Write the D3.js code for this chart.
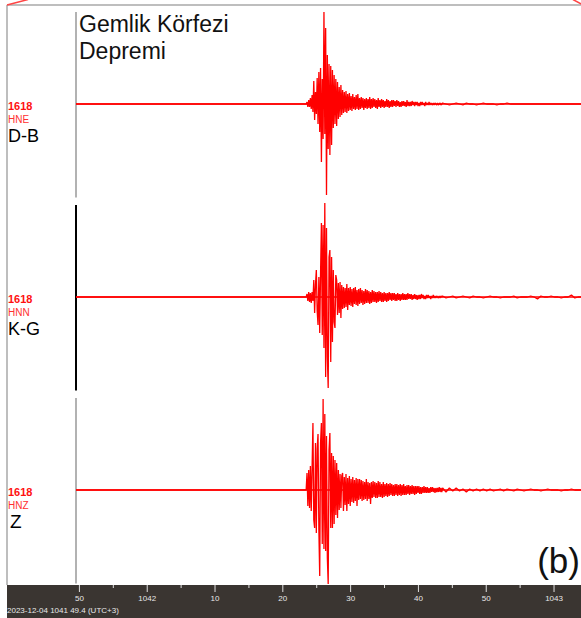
<!DOCTYPE html>
<html><head><meta charset="utf-8">
<script src="https://cdn.jsdelivr.net/npm/d3@7"></script>
<style>html,body{margin:0;padding:0;background:#fff;} svg{display:block;font-family:"Liberation Sans",Arial,sans-serif;}</style>
</head><body><svg id="c" width="581" height="618"></svg>
<script>
const station = "1618";
const channels = ["HNE", "HNN", "HNZ"];
const components = ["D-B", "K-G", "Z"];
const titleLines = ["Gemlik Körfezi", "Depremi"];
const panelTag = "(b)";
const startLabel = "2023-12-04 1041 49.4 (UTC+3)";
const timeStart = 49.57, timeEnd = 124.05;          // seconds after 10:41:00
const majorTicks = [50, 60, 70, 80, 90, 100, 110, 120];
const majorLabels = ["50", "1042", "10", "20", "30", "40", "50", "1043"];
const minorTicks = [55, 65, 75, 85, 95, 105, 115];
const onsetTime = 83.64, burstStep = 0.125;       // strong-motion part
const codaTime = 103.64, codaStep = 0.5;          // late coda

// HNE (D-B)
const burstHNE = [2,-3,4,-3,6,-5,9,-8,23,-16,12,-10,26,-20,32,-28,36,-58,25,-35,92,-30,76,-91,49,-45,40,-51,38,-41,
  34,-24,29,-20,25,-22,22,-15,17,-13,19,-11,14,-9,12,-8,13,-9,10,-7,11,-6,8,-7,10,-5,7,-6,9,-5,10,
  -6,6,-5,7,-4,6,-6,5,-4,6,-5,5,-4,7,-5,5,-4,6,-3,5,
  -4,4,-5,6,-3,4,-4,5,-3,4,-4,3,-3,5,-3,4,-4,3,-3,4,
  -3,4,-2,3,-3,4,-2,3,-3,2,-3,3,-2,3,-2,2,-3,4,-2,2,
  -2,2,-2,3,-1,2,-2,2,-1,2,-2,1,-2,2,-1,2,-1,1,-2,2,
  -1,1,-1,2,-1,1,0,-1,1,-1,1,0,-1,1,-1,0,1,-1,0];
const codaHNE = [1,0,-1,0,1,0,-1,1,0,0,-1,0,1,0,0,0,-1,0,0,1,0,0,0];
// HNN (K-G)
const burstHNN = [3,-4,5,-5,4,-6,5,-4,17,-16,12,27,-14,-28,20,-36,24,74,-38,72,-51,94,-80,69,-60,-91,40,47,-65,40,
  -45,27,-25,-31,22,17,-18,14,-16,15,-21,12,-12,10,-11,9,-10,13,-13,9,-8,10,-9,8,-10,9,-7,10,-8,7,-9,
  8,-7,9,-6,7,-8,6,-7,8,-6,7,-6,6,-7,5,-6,7,-5,6,-5,
  5,-6,5,-5,6,-4,5,-5,4,-5,5,-4,4,-5,4,-4,5,-3,4,-4,
  4,-3,4,-4,3,-4,4,-3,3,-4,3,-3,4,-3,3,-3,3,-3,4,-2,
  3,-2,3,-3,2,-2,3,-2,2,-3,2,-2,2,-2,3,-1,2,-2,1,-2,
  2,-1,2,-1,1,-2,1,-1,2,-1,1,-1,1,0,-1,1,-1,1,0];
const codaHNN = [1,-1,0,1,-1,0,1,0,-1,1,0,0,-1,0,1,0,0,-1,0,0,0,1,-1,0,0,0,1,0,-2,1,0,0,1,0,0,-1,0,0,2,-1,0];
// HNZ (Z)
const burstHNZ = [17,-16,20,-18,24,-21,22,67,-30,-38,47,-43,41,56,-40,-86,47,67,-54,91,-59,76,-61,54,-68,-94,40,57,-38,37,
  -38,34,-34,30,-25,27,-28,20,-20,16,-18,14,17,-21,13,-15,16,-21,12,-14,14,-16,11,-12,13,-13,10,-11,12,-16,11,
  -10,11,-9,10,-11,9,-10,8,-9,11,-11,8,-9,7,-14,8,-8,9,-7,8,
  -8,7,-8,9,-7,8,-7,6,-8,8,-7,6,-6,7,-7,6,-6,7,-5,6,
  -6,5,-6,6,-5,6,-6,5,-5,6,-6,5,-5,6,-5,4,-5,5,-4,5,
  -5,4,-4,5,-4,4,-5,4,-4,4,-3,4,-4,3,-4,3,-3,4,-3,3,
  -3,3,-3,2,-3,3,-2,3,-2,2,-3,2,-2,2,-2,3,-2,2,-2];
const codaHNZ = [2,-2,2,-1,2,-1,1,-2,1,-1,1,-1,1,-1,1,-1,0,1,-1,1,0,-1,1,0,-1,0,1,0,0,-1,0,1,0,0,0,-1,0,0,1,0,0];
const bursts = [burstHNE, burstHNN, burstHNZ];
const codas = [codaHNE, codaHNN, codaHNZ];

const svg = d3.select("#c");
const W = 581, H = 618;
const x = d3.scaleLinear([timeStart, timeEnd], [76, W]);
const band = d3.scaleBand(channels, [7.5, 586.5]);

// frame
svg.append("line").attr("x1", 7).attr("x2", W).attr("y1", 5).attr("y2", 5).attr("stroke", "#a8a8a8").attr("stroke-width", 1.5);
svg.append("line").attr("x1", 7).attr("x2", 7).attr("y1", 5).attr("y2", 585).attr("stroke", "#a8a8a8").attr("stroke-width", 1.5);
svg.append("line").attr("x1", 7).attr("y1", 5).attr("x2", 28).attr("y2", -0.5).attr("stroke", "#f44").attr("stroke-width", 1.5);
svg.append("line").attr("x1", 573).attr("y1", -0.5).attr("x2", 582).attr("y2", 4.5).attr("stroke", "#f44").attr("stroke-width", 1.5);

// bottom time bar
svg.append("rect").attr("x", 7).attr("y", 585).attr("width", W - 7).attr("height", H - 585).attr("fill", "#3a3531");
const axMajor = svg.append("g").attr("transform", "translate(0,585)")
  .call(d3.axisBottom(x).tickValues(majorTicks).tickFormat((d, i) => majorLabels[i]).tickSize(7).tickPadding(3));
const axMinor = svg.append("g").attr("transform", "translate(0,585)")
  .call(d3.axisBottom(x).tickValues(minorTicks).tickFormat("").tickSize(3));
[axMajor, axMinor].forEach(g => {
  g.select(".domain").remove();
  g.selectAll("line").attr("stroke", "#e0e0e0");
  g.selectAll("text").attr("fill", "#e8e8e8").attr("font-size", "8px").attr("font-family", "Liberation Sans, Arial, sans-serif");
});
svg.append("text").attr("x", 7).attr("y", 613).attr("font-size", "8px").attr("fill", "#e8e8e8").text(startLabel);

// panels
channels.forEach((ch, i) => {
  const top = band(ch), c = top + band.bandwidth() / 2;
  const y = d3.scaleLinear([-96, 96], [c + 96, c - 96]);
  svg.append("line").attr("x1", 76).attr("x2", 76).attr("y1", top + 4.5).attr("y2", top + 190)
    .attr("stroke", i === 1 ? "#000" : "#999").attr("stroke-width", i === 1 ? 2 : 1.5);
  svg.append("line").attr("x1", x(timeStart)).attr("x2", x(timeEnd)).attr("y1", y(0)).attr("y2", y(0))
    .attr("stroke", "#ff0000").attr("stroke-width", 1.6);
  const pts = [[timeStart, 0], [onsetTime - burstStep, 0]]
    .concat(bursts[i].map((v, k) => [onsetTime + k * burstStep, v]))
    .concat(codas[i].map((v, k) => [codaTime + k * codaStep, v]))
    .concat([[timeEnd, 0]]);
  svg.append("path").attr("d", d3.line().x(d => x(d[0])).y(d => y(d[1]))(pts))
    .attr("fill", "none").attr("stroke", "#ff0000").attr("stroke-width", 1.3).attr("stroke-linejoin", "bevel");
  svg.append("text").attr("x", 8).attr("y", c + 6).attr("font-size", "11px").attr("font-weight", "bold")
    .attr("fill", "#ff1010").text(station);
  svg.append("text").attr("x", 8).attr("y", c + 18.5).attr("font-size", "10px").attr("fill", "#ff3030").text(ch);
  svg.append("text").attr("x", i === 2 ? 10 : 8).attr("y", c + 38).attr("font-size", i === 2 ? "19px" : "18px")
    .attr("fill", "#000").text(components[i]);
});

svg.selectAll(".title").data(titleLines).enter().append("text")
  .attr("x", 79).attr("y", (d, i) => 31.7 + i * 27.6).attr("font-size", "23px").attr("fill", "#111").text(d => d);
svg.append("text").attr("x", 580).attr("y", 573).attr("text-anchor", "end").attr("font-size", "35px").attr("fill", "#111").text(panelTag);
</script></body></html>
